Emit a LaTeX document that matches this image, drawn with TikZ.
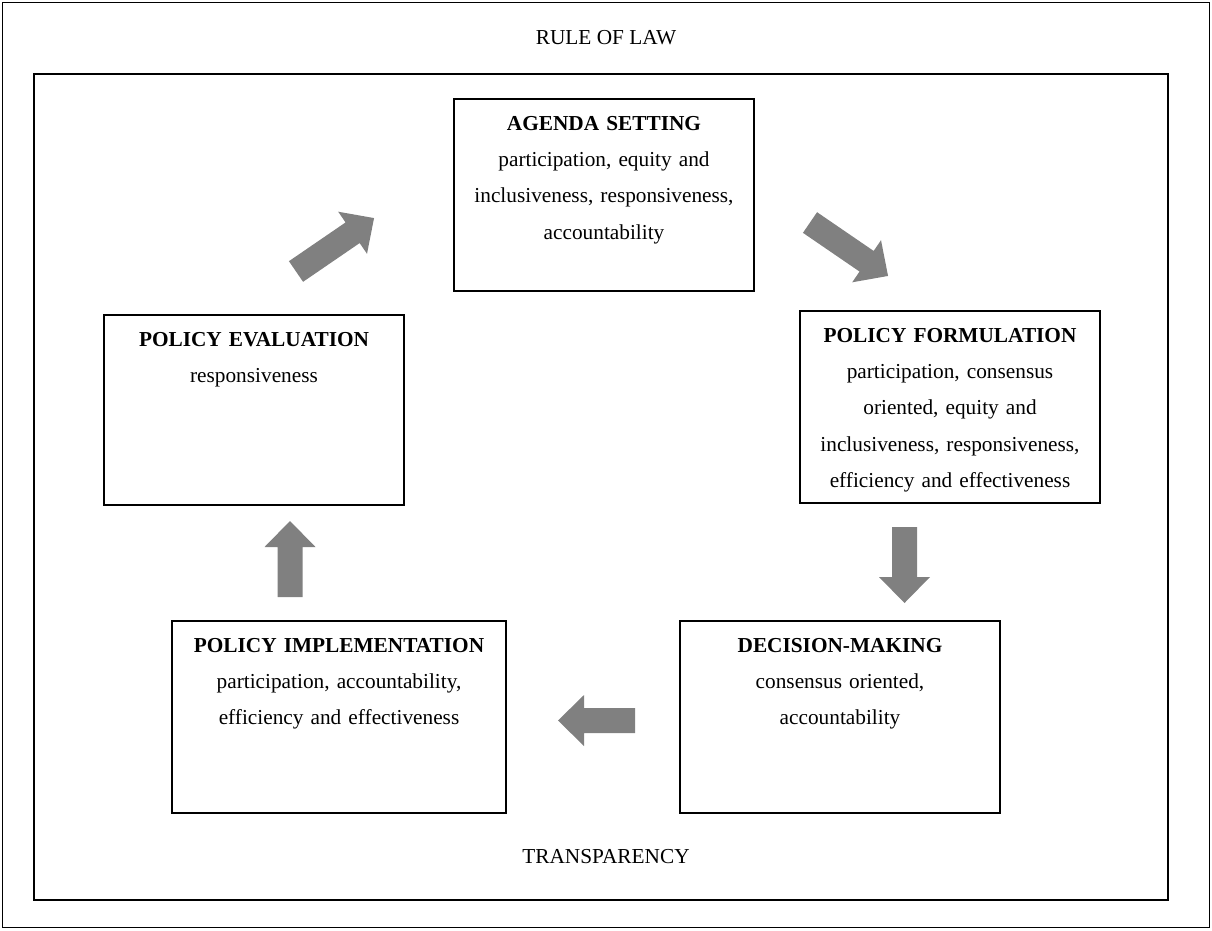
\documentclass[tikz,border=0pt]{standalone}
\usepackage{fontspec}
\setmainfont{Liberation Serif}
\definecolor{arrowgray}{gray}{0.5}
\tikzset{
  stagebox/.style={draw=black, line width=2pt, inner sep=0pt},
  stagetext/.style={font=\fontsize{21.3}{36.2}\selectfont, align=center, inner sep=0pt, anchor=north},
  framelabel/.style={font=\fontsize{21.3}{36}\selectfont, inner sep=0pt},
  outerframe/.style={draw=black, line width=1.8pt},
  innerframe/.style={draw=black, line width=2.4pt},
  pics/blockarrow/.style={code={
    \fill[arrowgray] (0,-12.5) -- ({#1-26},-12.5) -- ({#1-26},-25.5) -- (#1,0)
      -- ({#1-26},25.5) -- ({#1-26},12.5) -- (0,12.5) -- cycle;}}
}
\begin{document}
\begin{tikzpicture}[x=1pt,y=-1pt]
\useasboundingbox (0,0) rectangle (1212,930);
\draw[outerframe] (2.5,2.5) rectangle (1209.5,927.5);
\draw[innerframe] (34,74) rectangle (1168,900);
\node[framelabel] (rule) at (606,38) {RULE OF LAW};
\node[framelabel] (transp) at (606,857) {TRANSPARENCY};

\node[stagebox, minimum width=300pt, minimum height=192pt] (agenda) at (604,195) {};
\node[stagebox, minimum width=300pt, minimum height=192pt] (formulation) at (950,407) {};
\node[stagebox, minimum width=320pt, minimum height=192pt] (decision) at (840,717) {};
\node[stagebox, minimum width=334pt, minimum height=192pt] (implementation) at (339,717) {};
\node[stagebox, minimum width=300pt, minimum height=190pt] (evaluation) at (254,410) {};

\node[stagetext, text width=296pt] (agendaT) at ([yshift=-7.2pt]agenda.north)
  {\rule{0pt}{25pt}\textbf{AGENDA SETTING}\\ participation, equity and\\ inclusiveness, responsiveness,\\ accountability};
\node[stagetext, text width=296pt] (formulationT) at ([yshift=-7.2pt]formulation.north)
  {\rule{0pt}{25pt}\textbf{POLICY FORMULATION}\\ participation, consensus\\ oriented, equity and\\ inclusiveness, responsiveness,\\ efficiency and effectiveness};
\node[stagetext, text width=316pt] (decisionT) at ([yshift=-7.2pt]decision.north)
  {\rule{0pt}{25pt}\textbf{DECISION-MAKING}\\ consensus oriented,\\ accountability};
\node[stagetext, text width=330pt] (implementationT) at ([yshift=-7.2pt]implementation.north)
  {\rule{0pt}{25pt}\textbf{POLICY IMPLEMENTATION}\\ participation, accountability,\\ efficiency and effectiveness};
\node[stagetext, text width=296pt] (evaluationT) at ([yshift=-7.2pt]evaluation.north)
  {\rule{0pt}{25pt}\textbf{POLICY EVALUATION}\\ responsiveness};

\pic[rotate=-34.4] (a1) at (810,222.5) {blockarrow=94.6};
\pic[rotate=-90] (a2) at (904.5,527) {blockarrow=76};
\pic[rotate=180] (a3) at (635,720.5) {blockarrow=77};
\pic[rotate=90] (a4) at (290,597) {blockarrow=76};
\pic[rotate=34.4] (a5) at (296,271.5) {blockarrow=94.6};
\end{tikzpicture}
\end{document}
